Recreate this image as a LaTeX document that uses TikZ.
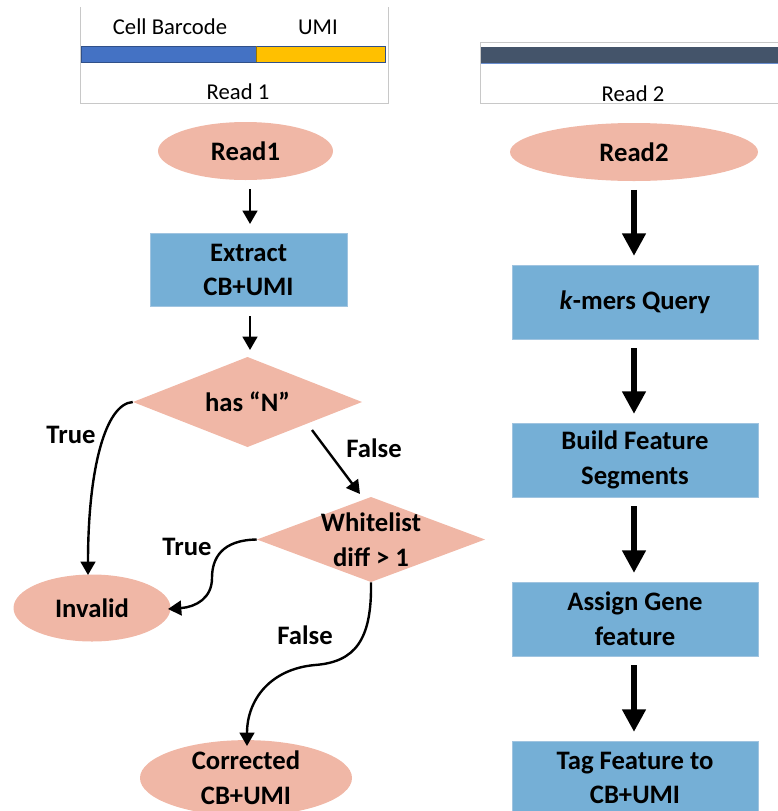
\documentclass[tikz,border=0pt]{standalone}
\usepackage{fontspec}
\setmainfont{Carlito}
\usetikzlibrary{shapes.geometric,arrows.meta}

\definecolor{pinkfill}{RGB}{240,183,166}
\definecolor{bluefill}{RGB}{117,175,214}
\definecolor{blueedge}{RGB}{160,196,224}
\definecolor{cbblue}{RGB}{68,114,196}
\definecolor{umiyellow}{RGB}{255,192,0}
\definecolor{slate}{RGB}{68,84,106}
\definecolor{frame}{RGB}{200,200,200}

\tikzset{
  lbl/.style={font=\fontsize{20}{26}\selectfont\bfseries, align=center, text=black},
  small/.style={font=\fontsize{17}{21}\selectfont, text=black},
  oval/.style={ellipse, fill=pinkfill, inner sep=0pt, lbl},
  % rhombus filled inside a fixed-size rectangle, so the text never enlarges it
  decide/.style={rectangle, inner sep=0pt, lbl,
    path picture={\fill[pinkfill] (path picture bounding box.north)
      -- (path picture bounding box.east) -- (path picture bounding box.south)
      -- (path picture bounding box.west) -- cycle;}},
  procbox/.style={rectangle, fill=bluefill, draw=blueedge, line width=0.6pt, inner sep=0pt, lbl},
  thin arrow/.style={line width=1.8pt, -{Triangle[width=11pt,length=10pt]}},
  thick arrow/.style={line width=5pt, -{Triangle[width=17pt,length=17pt]}, shorten <=6.5pt, shorten >=6.5pt},
  curve arrow/.style={line width=1.8pt, -{Triangle[width=11pt,length=10pt]}},
}

\begin{document}
\begin{tikzpicture}[x=0.75pt, y=-0.75pt]
\useasboundingbox (0,0) rectangle (778,811);

% Read 1 layout
\draw[frame, line width=0.6pt] (80,7) -- (80,103.5) -- (388,103.5) -- (388,7);
\fill[cbblue] (81,46) rectangle (256,62);
\fill[umiyellow] (256,46) rectangle (385,62);
\draw[cbblue!70!black, line width=0.5pt] (81,46) rectangle (385,62);
\draw[umiyellow!60!black, line width=0.5pt] (256,46) -- (256,62);
\node[small] (cb) at (170,27) {Cell Barcode};
\node[small] (umi) at (318,27) {UMI};
\node[small] (r1lab) at (238,92) {Read 1};

% Read 2 layout
\draw[frame, line width=0.6pt] (778,42) -- (480.5,42) -- (480.5,103.5) -- (778,103.5);
\fill[slate] (481,47) rectangle (778,63);
\draw[cbblue!80!white, line width=0.5pt] (481,63) -- (778,63);
\node[small] (r2lab) at (633,94) {Read 2};

% Left flow
\node[oval, minimum width=131.25pt, minimum height=43.5pt] (read1) at (245.5,151) {Read1};
\node[procbox, minimum width=147.75pt, minimum height=54.75pt] (extract) at (248.5,270) {Extract\\CB+UMI};
\node[decide, minimum width=171.75pt, minimum height=67.5pt] (hasn) at (247.5,402) {has “N”};
\node[decide, minimum width=171pt, minimum height=63.75pt] (wl) at (371,539.5) {Whitelist\\diff > 1};
\node[oval, minimum width=117.75pt, minimum height=50.25pt] (invalid) at (92,608) {Invalid};
\node[oval, minimum width=159pt, minimum height=49.5pt] (corr) at (246,778) {Corrected\\CB+UMI};

\coordinate (a1s) at (250,189);
\coordinate (a1e) at (250,224);
\coordinate (a2s) at (250,316);
\coordinate (a2e) at (250,350);
\draw[thin arrow] (a1s) -- (a1e);
\draw[thin arrow] (a2s) -- (a2e);

\coordinate (fs) at (312,430);
\coordinate (fe) at (360,494);
\draw[thin arrow] (fs) -- (fe);
\node[lbl] (f1) at (374,448) {False};

\draw[curve arrow] (hasn.west) .. controls (105,404) and (88,470) .. (88,575);
\node[lbl] (t1) at (71,435) {True};

\draw[curve arrow] (wl.west) .. controls (222,540) and (212,558) .. (212,578)
  .. controls (212,598) and (196,607) .. (168,609);
\node[lbl] (t2) at (187,547) {True};

\draw[curve arrow] (wl.south) .. controls (372,640) and (355,662) .. (315,665)
  .. controls (270,669) and (247,700) .. (247,746);
\node[lbl] (f2) at (305,635) {False};

% Right flow
\node[oval, minimum width=186pt, minimum height=43.5pt] (read2) at (634,152) {Read2};
\node[procbox, minimum width=184.5pt, minimum height=55.5pt] (kmer) at (635,302) {\textit{k}-mers Query};
\node[procbox, minimum width=184.5pt, minimum height=55.5pt] (build) at (635,460) {Build Feature\\Segments};
\node[procbox, minimum width=184.5pt, minimum height=55.5pt] (assign) at (635,619) {Assign Gene\\feature};
\node[procbox, minimum width=184.5pt, minimum height=55.5pt] (tag) at (635,778) {Tag Feature to\\CB+UMI};

\draw[thick arrow] (read2.south) -- (read2.south |- kmer.north);
\draw[thick arrow] (kmer.south -| read2.south) -- (read2.south |- build.north);
\draw[thick arrow] (build.south -| read2.south) -- (read2.south |- assign.north);
\draw[thick arrow] (assign.south -| read2.south) -- (read2.south |- tag.north);
\end{tikzpicture}
\end{document}
